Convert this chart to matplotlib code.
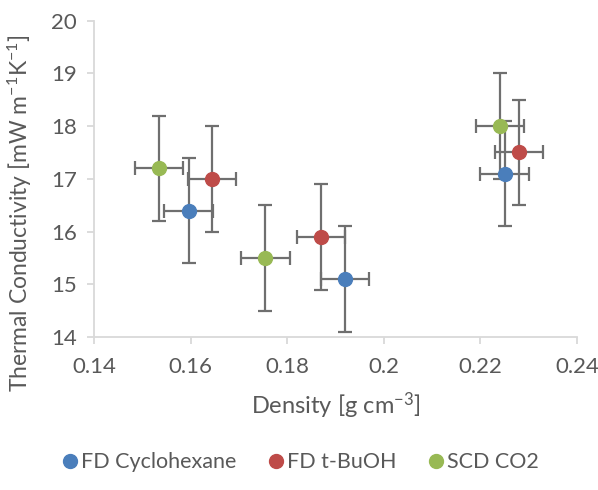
import matplotlib
matplotlib.use("Agg")
import matplotlib.pyplot as plt

# density [g cm-3] and thermal conductivity [mW m-1 K-1]
cyclo_x = [0.1596, 0.192, 0.225]
cyclo_y = [16.4, 15.1, 17.1]
buoh_x = [0.1644, 0.187, 0.228]
buoh_y = [17.0, 15.9, 17.5]
co2_x = [0.1535, 0.1755, 0.2241]
co2_y = [17.2, 15.5, 18.0]
x_err = 0.005
y_err = 1.0

series = [
    ("FD Cyclohexane", cyclo_x, cyclo_y, "#4a7ebb"),
    ("FD t-BuOH", buoh_x, buoh_y, "#be4b48"),
    ("SCD CO2", co2_x, co2_y, "#98b954"),
]

plt.rcParams["font.family"] = ["Lato", "DejaVu Sans"]
plt.rcParams["mathtext.default"] = "regular"
txt = "#595959"

fig = plt.figure(figsize=(5.98, 4.90), dpi=100)
ax = fig.add_axes([0.157, 0.312, 0.808, 0.646])

for name, xs, ys, col in series:
    ax.errorbar(xs, ys, xerr=x_err, yerr=y_err, fmt="o", color=col,
                ms=10, mec=col, ecolor="#6f6f6f", elinewidth=1.6,
                capsize=5, capthick=1.6, label=name, zorder=3)

ax.set_xlim(0.14, 0.24)
ax.set_ylim(14, 20)
ax.set_xticks([0.14, 0.16, 0.18, 0.2, 0.22, 0.24])
ax.set_xticklabels(["0.14", "0.16", "0.18", "0.2", "0.22", "0.24"])
ax.set_yticks(range(14, 21))

for s in ["top", "right"]:
    ax.spines[s].set_visible(False)
for s in ["left", "bottom"]:
    ax.spines[s].set_color("#d9d9d9")
    ax.spines[s].set_linewidth(1.3)
ax.tick_params(colors="#d9d9d9", labelcolor=txt, labelsize=16, length=5,
               width=1.3)
ax.tick_params(axis="x", pad=9)
ax.tick_params(axis="y", pad=7)

ax.set_xlabel("Density [g cm$^{-3}$]", fontsize=17, color=txt)
ax.set_ylabel("Thermal Conductivity [mW m$^{-1}$K$^{-1}$]", fontsize=16.5,
              color=txt)
ax.xaxis.set_label_coords(0.5, -0.217, transform=ax.transAxes)
ax.xaxis.label.set_va("center")
ax.yaxis.set_label_coords(-0.153, 0.39, transform=ax.transAxes)
ax.yaxis.label.set_va("center")

labels = [s[0] for s in series]
handles = [plt.Line2D([], [], marker="o", ls="", color=c, ms=10)
           for _, _, _, c in series]
fig.legend(handles, labels, loc="center", bbox_to_anchor=(0.5, 0.057),
           ncol=3, frameon=False, fontsize=15.5, labelcolor=txt,
           handletextpad=0.05, columnspacing=1.3, handlelength=1.0)

fig.savefig("out.png", dpi=100)
